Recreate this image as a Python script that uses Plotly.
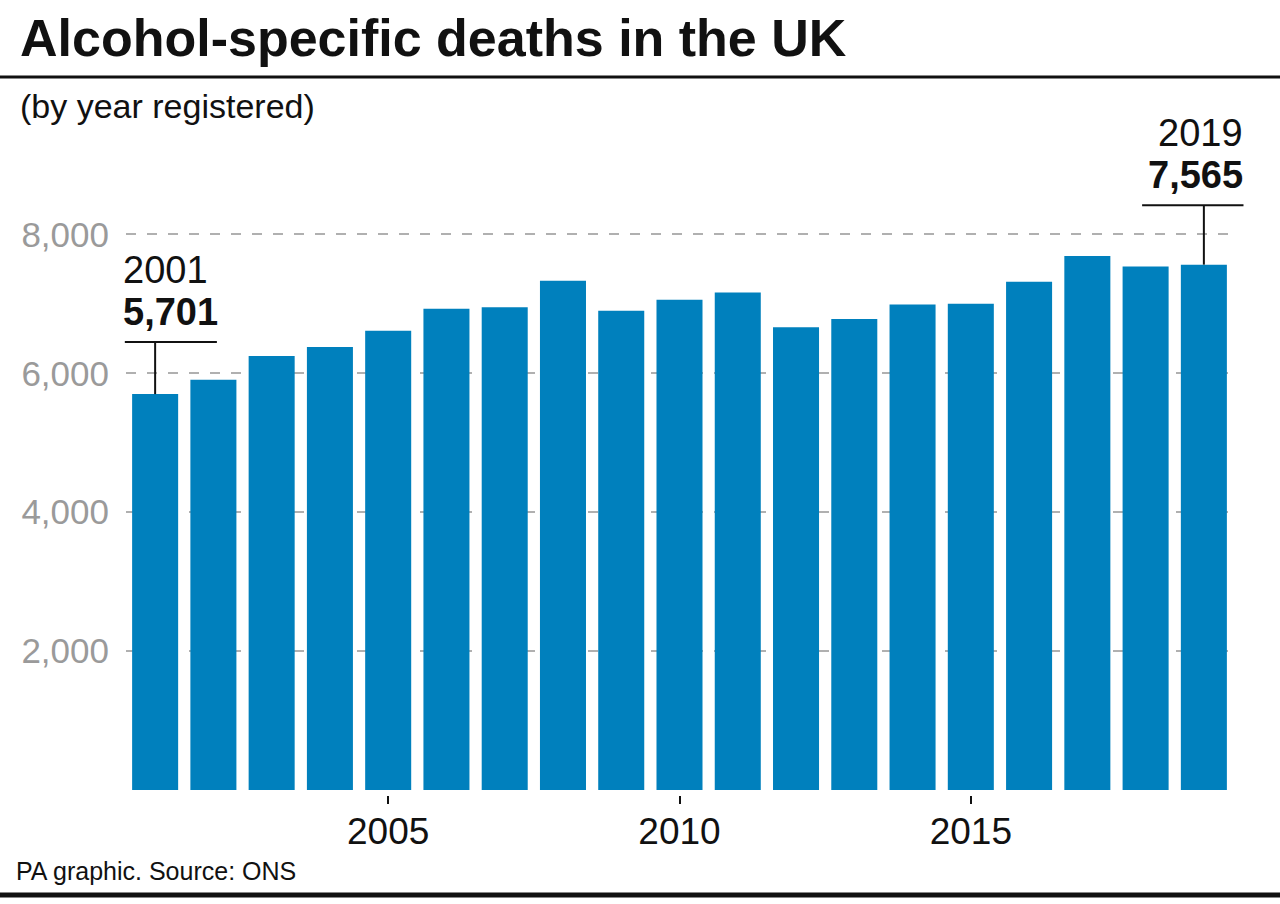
import plotly.graph_objects as go

# data
years = list(range(2001, 2020))
deaths = [5701, 5909, 6249, 6378, 6614, 6931, 6950, 7334, 6902, 7060,
          7165, 6662, 6781, 6993, 7003, 7319, 7688, 7540, 7565]
x_ticks = [2005, 2010, 2015]
y_ticks = [2000, 4000, 6000, 8000]
y_tick_text = ["2,000", "4,000", "6,000", "8,000"]

title = "Alcohol-specific deaths in the UK"
subtitle = "(by year registered)"
source = "PA graphic. Source: ONS"

# page geometry
W, H = 1280, 904
L, R, T, B = 126, 47, 165, 109
pw, ph = W - L - R, H - T - B
x_range = [2000.5, 2019.5]

BLUE = "#0080BD"
INK = "#111111"
FONT = "Liberation Sans, Arial, sans-serif"


def py(Y):
    # pixel row -> paper y
    return (H - B - Y) / ph


def px(X):
    # pixel column -> paper x
    return (X - L) / pw


def dx(v):
    # data x -> paper x (so callout rules are not clipped at the plot edge)
    return (v - x_range[0]) / (x_range[1] - x_range[0])


fig = go.Figure()

fig.add_trace(go.Bar(
    x=years, y=deaths,
    marker=dict(color=BLUE, line=dict(width=0)),
    hoverinfo="x+y",
    showlegend=False,
))

# rules across the page
fig.add_shape(type="line", xref="paper", yref="paper",
              x0=px(0), x1=px(W), y0=py(77), y1=py(77),
              line=dict(color=INK, width=3))
fig.add_shape(type="line", xref="paper", yref="paper",
              x0=px(0), x1=px(W), y0=py(895), y1=py(895),
              line=dict(color=INK, width=5))

# callouts for first and last year
first_lead = 6450
last_lead = 8420
fig.add_shape(type="line", x0=years[0], x1=years[0], y0=deaths[0], y1=first_lead,
              line=dict(color=INK, width=2))
fig.add_shape(type="line", xref="paper", yref="y",
              x0=dx(years[0] - 0.52), x1=dx(years[0] + 1.06),
              y0=first_lead, y1=first_lead, line=dict(color=INK, width=2))
fig.add_shape(type="line", x0=years[-1], x1=years[-1], y0=deaths[-1], y1=last_lead,
              line=dict(color=INK, width=2))
fig.add_shape(type="line", xref="paper", yref="y",
              x0=dx(years[-1] - 1.06), x1=dx(years[-1] + 0.68),
              y0=last_lead, y1=last_lead, line=dict(color=INK, width=2))

ann = []
for yr, val, anchor, shift, lead in [(years[0], deaths[0], "left", -34, first_lead),
                                     (years[-1], deaths[-1], "right", 41, last_lead)]:
    ann.append(dict(x=yr, y=lead, xref="x", yref="y",
                    xanchor=anchor, yanchor="bottom", xshift=shift, yshift=7,
                    showarrow=False, text=f"<b>{val:,}</b>",
                    font=dict(family=FONT, size=38, color=INK)))
    ann.append(dict(x=yr, y=lead, xref="x", yref="y",
                    xanchor=anchor, yanchor="bottom", xshift=shift, yshift=49,
                    showarrow=False, text=f"{yr}",
                    font=dict(family=FONT, size=38, color=INK)))

# headings and source
ann.append(dict(x=px(18), y=py(38), xref="paper", yref="paper",
                xanchor="left", yanchor="middle", showarrow=False,
                text=f"<b>{title}</b>",
                font=dict(family=FONT, size=52, color=INK)))
ann.append(dict(x=px(18), y=py(106), xref="paper", yref="paper",
                xanchor="left", yanchor="middle", showarrow=False,
                text=subtitle,
                font=dict(family=FONT, size=34, color=INK)))
ann.append(dict(x=px(14), y=py(871), xref="paper", yref="paper",
                xanchor="left", yanchor="middle", showarrow=False,
                text=source,
                font=dict(family=FONT, size=25, color=INK)))

fig.update_layout(
    width=W, height=H,
    margin=dict(l=L, r=R, t=T, b=B, autoexpand=False),
    paper_bgcolor="white", plot_bgcolor="white",
    bargap=0.21,
    annotations=ann,
    xaxis=dict(
        range=x_range,
        tickvals=x_ticks,
        ticks="outside", ticklen=8, tickwidth=1.5, tickcolor=INK,
        ticklabelstandoff=-4,
        tickfont=dict(family=FONT, size=37, color=INK),
        showgrid=False, zeroline=False, showline=False,
    ),
    yaxis=dict(
        range=[-72, 9000],
        tickvals=y_ticks, ticktext=y_tick_text,
        ticks="", ticklabelstandoff=16,
        tickfont=dict(family=FONT, size=35, color="#9a9a9a"),
        showgrid=True, gridcolor="#b0b0b0", gridwidth=2, griddash="10px,11px",
        zeroline=False, showline=False,
    ),
)

# drop the default page margin so the figure sits at the window corner
fig.write_html("out.html", config={"displayModeBar": False},
               post_script="document.body.style.margin='0';")
